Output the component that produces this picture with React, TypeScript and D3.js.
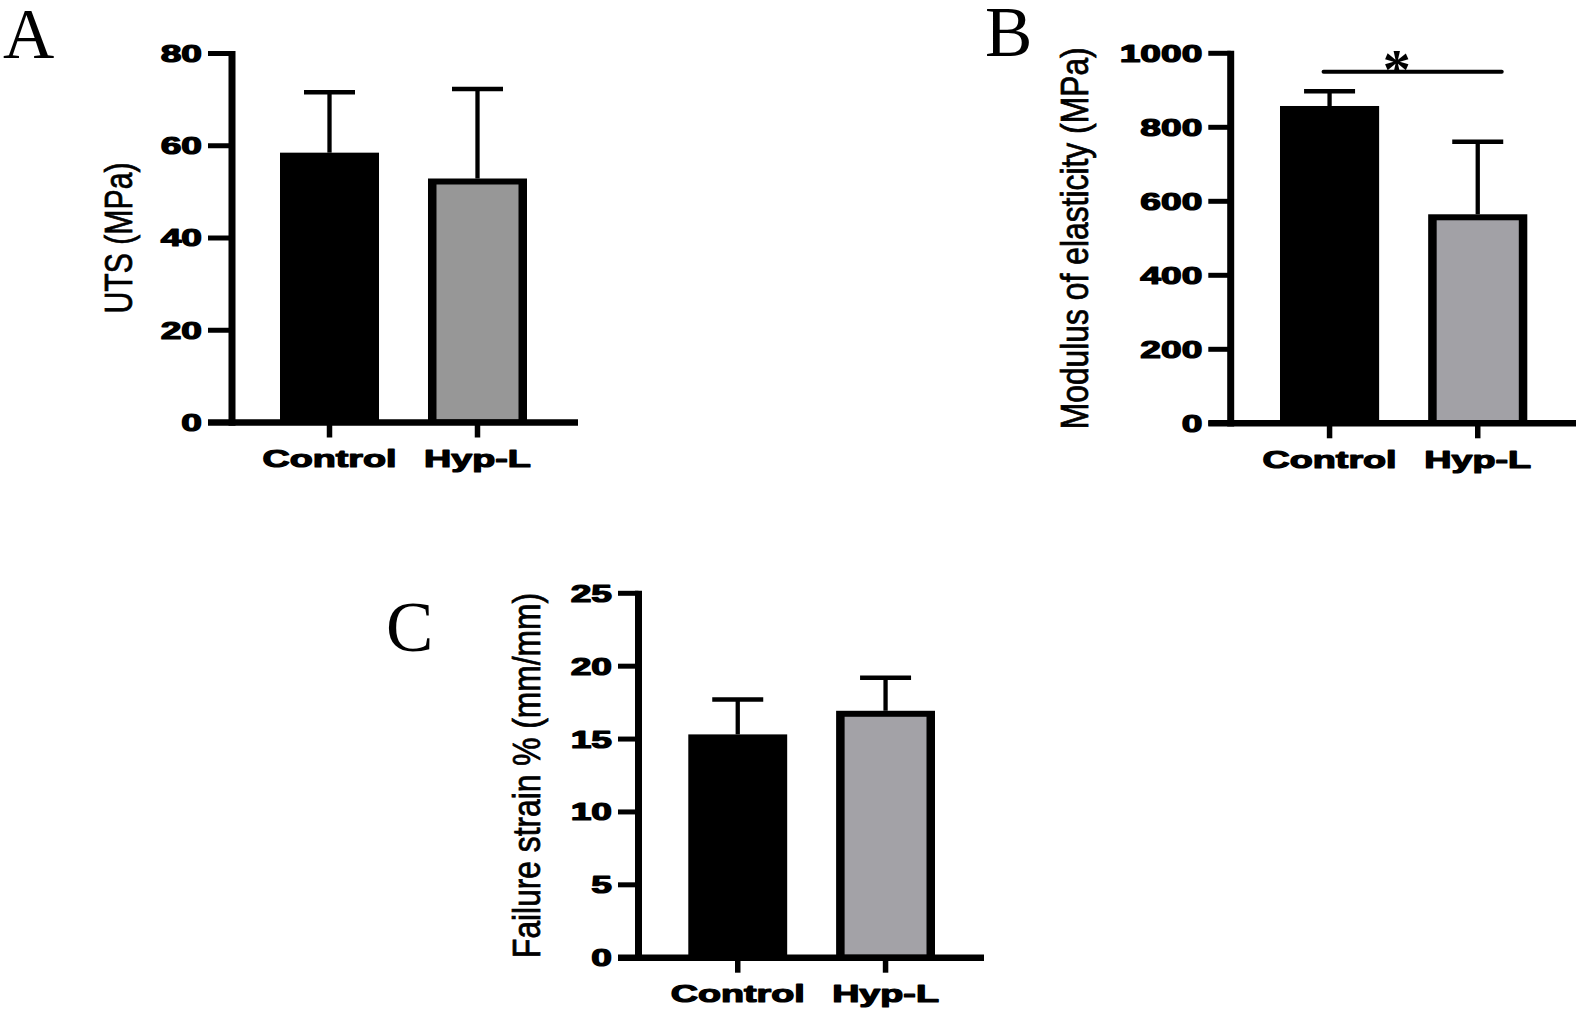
import React from "react";
import * as d3 from "d3";

// groups on the x axis
const groups = ["Control", "Hyp-L"];

// panel A: ultimate tensile strength
const utsMean = [58.5, 52.9];
const utsSd = [13.1, 19.4];
const utsTicks = [0, 20, 40, 60, 80];

// panel B: modulus of elasticity
const modMean = [857.6, 564.9];
const modSd = [39.7, 196.1];
const modTicks = [0, 200, 400, 600, 800, 1000];
const modSigLevel = 950;

// panel C: failure strain
const strainMean = [15.32, 16.94];
const strainSd = [2.4, 2.26];
const strainTicks = [0, 5, 10, 15, 20, 25];

const SANS = "'Liberation Sans', Arial, sans-serif";
const SERIF = "'Liberation Serif', 'Times New Roman', serif";

function BarPanel({
  letter, letterPos, yLabel, yLabelPos, means, sds, ticks, yMax,
  axisX, xEnd, barRange, yTop, yZero, grey, tickLen, sig,
}) {
  // scales
  const x = d3.scaleBand().domain(groups).range(barRange).paddingInner(0.331).paddingOuter(0);
  const y = d3.scaleLinear().domain([0, yMax]).range([yZero, yTop]);
  const bw = x.bandwidth();

  const bars = groups.map((g, i) => {
    const x0 = x(g);
    const top = y(means[i]);
    const cx = x0 + bw / 2;
    const errTop = y(means[i] + sds[i]);
    return (
      <g key={g}>
        {/* error bar (upper half only) */}
        <line x1={cx} x2={cx} y1={top} y2={errTop} stroke="#000" strokeWidth={4.3} />
        <line x1={cx - 25.5} x2={cx + 25.5} y1={errTop} y2={errTop} stroke="#000" strokeWidth={4.5} />
        <rect x={x0} y={top} width={bw} height={yZero - top} fill="#000" />
        {i === 1 && (
          <rect x={x0 + 8.5} y={top + 6} width={bw - 17} height={yZero - top - 9} fill={grey} />
        )}
      </g>
    );
  });

  let sigEl = null;
  if (sig) {
    const x1 = x(groups[0]) + bw / 2 - 6;
    const x2 = x(groups[1]) + bw / 2 + 24;
    const sy = y(sig);
    sigEl = (
      <g>
        <line x1={x1} x2={x2} y1={sy} y2={sy} stroke="#000" strokeWidth={4} strokeLinecap="round" />
        <text x={(x1 + x2) / 2 - 16} y={sy + 17} fontFamily={SERIF} fontWeight="bold" fontSize={56}
          textAnchor="middle" fill="#000">*</text>
      </g>
    );
  }

  return (
    <g>
      {bars}
      {/* y axis */}
      <line x1={axisX} x2={axisX} y1={yTop - 2.5} y2={yZero + 3.3} stroke="#000" strokeWidth={7} />
      {ticks.map((t) => (
        <g key={t}>
          <line x1={axisX - tickLen} x2={axisX} y1={y(t)} y2={y(t)} stroke="#000" strokeWidth={5} />
          <text
            transform={`translate(${axisX - tickLen - 6},${y(t)}) scale(1.58,1)`}
            dy="0.36em" textAnchor="end" fontFamily={SANS} fontWeight="bold" fontSize={23.5}
            fill="#000" stroke="#000" strokeWidth={1.2} strokeLinejoin="round"
          >{t}</text>
        </g>
      ))}
      {/* x axis */}
      <line x1={axisX - tickLen} x2={xEnd} y1={yZero} y2={yZero} stroke="#000" strokeWidth={6.5} />
      {groups.map((g) => {
        const cx = x(g) + bw / 2;
        return (
          <g key={g}>
            <line x1={cx} x2={cx} y1={yZero} y2={yZero + 15} stroke="#000" strokeWidth={5.5} />
            <text
              transform={`translate(${cx},${yZero + 44.5}) scale(1.54,1)`}
              textAnchor="middle" fontFamily={SANS} fontWeight="bold" fontSize={24.5}
              fill="#000" stroke="#000" strokeWidth={1.2} strokeLinejoin="round"
            >{g}</text>
          </g>
        );
      })}
      {sigEl}
      {/* axis title */}
      <text
        transform={`translate(${yLabelPos[0]},${(yTop + yZero) / 2}) scale(1.32,1) rotate(-90)`}
        textAnchor="middle" fontFamily={SANS} fontSize={30} textLength={yLabelPos[1]}
        lengthAdjust="spacingAndGlyphs" fill="#000" stroke="#000" strokeWidth={0.6}
      >{yLabel}</text>
      {/* panel letter */}
      <text x={letterPos[0]} y={letterPos[1]} fontFamily={SERIF} fontSize={71} fill="#000">{letter}</text>
    </g>
  );
}

export default function App() {
  return (
    <svg width={1580} height={1010} style={{ position: "absolute", left: 0, top: 0, background: "#fff" }}>
      <rect width={1580} height={1010} fill="#fff" />
      <BarPanel
        letter="A" letterPos={[3, 58]}
        yLabel="UTS (MPa)" yLabelPos={[131.5, 151]}
        means={utsMean} sds={utsSd} ticks={utsTicks} yMax={80}
        axisX={232} xEnd={578} barRange={[280, 527]} yTop={53.5} yZero={422.5}
        grey="#979797" tickLen={24}
      />
      <BarPanel
        letter="B" letterPos={[985, 56]}
        yLabel="Modulus of elasticity (MPa)" yLabelPos={[1088, 382]}
        means={modMean} sds={modSd} ticks={modTicks} yMax={1000}
        axisX={1230.7} xEnd={1576} barRange={[1280, 1527.3]} yTop={53.3} yZero={423.3}
        grey="#a2a1a6" tickLen={22.4} sig={modSigLevel}
      />
      <BarPanel
        letter="C" letterPos={[386, 651]}
        yLabel="Failure strain % (mm/mm)" yLabelPos={[540, 365]}
        means={strainMean} sds={strainSd} ticks={strainTicks} yMax={25}
        axisX={638.5} xEnd={984} barRange={[688.3, 935]} yTop={593.3} yZero={957.7}
        grey="#a3a2a7" tickLen={20.5}
      />
    </svg>
  );
}
